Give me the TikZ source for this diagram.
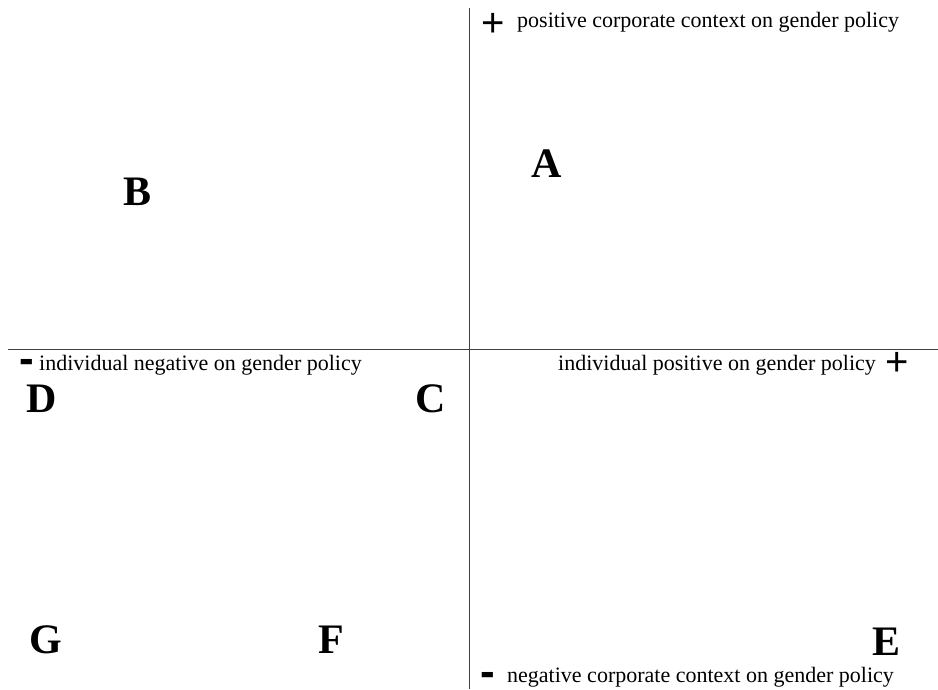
\documentclass[tikz,border=0pt]{standalone}
\usepackage{fontspec}
\setmainfont{Liberation Serif}
\newfontfamily\signfont{Liberation Sans}
\usetikzlibrary{positioning}

\begin{document}
\begin{tikzpicture}[x=1pt,y=-1pt,
  axis/.style={draw=black!75,line width=0.9pt},
  quad/.style={inner sep=0pt,font=\fontsize{42}{42}\selectfont\bfseries},
  lbl/.style={inner sep=0pt,anchor=base west,font=\fontsize{22}{22}\selectfont},
  plussgn/.style={inner sep=0pt,anchor=base,font=\fontsize{40}{40}\selectfont\signfont},
  minussgn/.style={inner sep=0pt,anchor=base,font=\fontsize{44}{44}\selectfont\signfont\bfseries}]
  \useasboundingbox (0,0) rectangle (938,689);

  % axes
  \coordinate (top) at (469,8);
  \coordinate (bot) at (469,689);
  \coordinate (lft) at (8,349);
  \coordinate (rgt) at (938,349);
  \draw[axis] (top) -- (bot);
  \draw[axis] (lft) -- (rgt);

  % axis ends
  \node[plussgn] (ctxplus) at (493,36) {+};
  \node[lbl] (ctxpos) at (517,27) {positive corporate context on gender policy};
  \node[minussgn] (ctxminus) at (488,686) {-};
  \node[lbl] (ctxneg) at (507,682) {negative corporate context on gender policy};
  \node[minussgn] (indminus) at (27,373) {-};
  \node[lbl] (indneg) at (39,370) {individual negative on gender policy};
  \node[lbl] (indpos) at (558,370) {individual positive on gender policy};
  \node[plussgn] (indplus) at (897,375) {+};

  % quadrant letters
  \foreach \n/\x/\y in {A/547/164, B/138/192, C/431/399, D/42/399,
                        E/886/642, F/331/640, G/46/640}
    \node[quad] (\n) at (\x,\y) {\n};
\end{tikzpicture}
\end{document}
